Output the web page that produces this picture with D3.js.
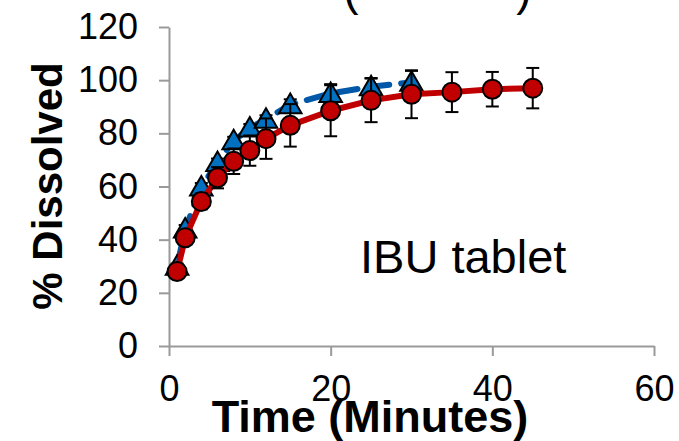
<!DOCTYPE html>
<html>
<head>
<meta charset="utf-8">
<script src="https://cdn.jsdelivr.net/npm/d3@7/dist/d3.min.js"></script>
<style>
  html, body { margin: 0; padding: 0; background: #fff; }
  svg { display: block; }
  text { font-family: "Liberation Sans", Arial, sans-serif; }
</style>
</head>
<body>
<div id="chart"></div>
<script>
// data
var redTime = [1, 2, 4, 6, 8, 10, 12, 15, 20, 25, 30, 35, 40, 45];
var redVal = [28, 40.7, 54.4, 63.3, 69.5, 73.5, 78, 83, 88.5, 92.4, 94.7, 95.5, 96.6, 97];
var redErr = [1.5, 2, 3, 4, 4.8, 5.7, 7.6, 8, 9.6, 8.2, 9, 7.5, 6.5, 7.6];

var blueTime = [1, 2, 4, 6, 8, 10, 12, 15, 20, 25, 30];
var blueVal = [30, 44, 59.8, 69, 77.2, 82, 85.3, 90.8, 95, 97.5, 99.2];
var blueErr = [1, 1.5, 1.5, 1.5, 1.5, 1.5, 1.5, 2, 3.5, 3.3, 4.3];

var xTicks = [0, 20, 40, 60];
var yTicks = [0, 20, 40, 60, 80, 100, 120];

var width = 679, height = 441;

var svg = d3.select("#chart").append("svg")
  .attr("width", width)
  .attr("height", height);

var x = d3.scaleLinear().domain([0, 60]).range([169, 654]);
var y = d3.scaleLinear().domain([0, 120]).range([346, 27]);

var axisColor = "#9a9a9a";

// y axis
var yAxis = svg.append("g")
  .attr("transform", "translate(" + x(0) + ",0)")
  .call(d3.axisLeft(y).tickValues(yTicks).tickSize(10).tickSizeOuter(0).tickPadding(21));

// x axis
var xAxis = svg.append("g")
  .attr("transform", "translate(0," + y(0) + ")")
  .call(d3.axisBottom(x).tickValues(xTicks).tickSize(10).tickSizeOuter(0).tickPadding(19));

[yAxis, xAxis].forEach(function(g) {
  g.select(".domain").attr("stroke", axisColor).attr("stroke-width", 2);
  g.selectAll(".tick line").attr("stroke", axisColor).attr("stroke-width", 2);
  g.selectAll(".tick text")
    .attr("fill", "#000")
    .style("font-size", "36px");
});

// titles
svg.append("text")
  .attr("transform", "translate(62,186) rotate(-90)")
  .attr("text-anchor", "middle")
  .style("font-size", "42px")
  .style("font-weight", "bold")
  .text("% Dissolved");

svg.append("text")
  .attr("x", 370)
  .attr("y", 432)
  .attr("text-anchor", "middle")
  .style("font-size", "45px")
  .style("font-weight", "bold")
  .text("Time (Minutes)");

svg.append("text")
  .attr("x", 360)
  .attr("y", 273)
  .style("font-size", "47px")
  .text("IBU tablet");

// bits of the cut-off chart title
svg.append("text").attr("x", 351).attr("y", 5).attr("text-anchor", "middle")
  .style("font-size", "46px").text("(");
svg.append("text").attr("x", 524).attr("y", 5).attr("text-anchor", "middle")
  .style("font-size", "46px").text(")");

function drawSeries(times, vals, errs, lineColor, dashed, marker) {
  var pts = times.map(function(t, i) { return { t: t, v: vals[i], e: errs[i] }; });

  var line = d3.line()
    .x(function(d) { return x(d.t); })
    .y(function(d) { return y(d.v); });

  var path = svg.append("path")
    .datum(pts)
    .attr("fill", "none")
    .attr("stroke", lineColor)
    .attr("stroke-width", 6)
    .attr("stroke-linejoin", "round")
    .attr("stroke-linecap", "round")
    .attr("d", line);
  if (dashed) path.attr("stroke-dasharray", "20,12");

  // error bars
  var eb = svg.append("g").attr("stroke", "#000").attr("stroke-width", 2);
  pts.forEach(function(d) {
    var cx = x(d.t);
    eb.append("line").attr("x1", cx).attr("x2", cx)
      .attr("y1", y(d.v - d.e)).attr("y2", y(d.v + d.e));
    eb.append("line").attr("x1", cx - 6.5).attr("x2", cx + 6.5)
      .attr("y1", y(d.v - d.e)).attr("y2", y(d.v - d.e));
    eb.append("line").attr("x1", cx - 6.5).attr("x2", cx + 6.5)
      .attr("y1", y(d.v + d.e)).attr("y2", y(d.v + d.e));
  });

  // markers
  if (marker === "circle") {
    svg.append("g").selectAll("circle")
      .data(pts)
      .enter().append("circle")
      .attr("cx", function(d) { return x(d.t); })
      .attr("cy", function(d) { return y(d.v); })
      .attr("r", 9.5)
      .attr("fill", "#c00000")
      .attr("stroke", "#000")
      .attr("stroke-width", 2);
  } else {
    var tri = d3.symbol().type(d3.symbolTriangle).size(220);
    svg.append("g").selectAll("path")
      .data(pts)
      .enter().append("path")
      .attr("transform", function(d) { return "translate(" + x(d.t) + "," + (y(d.v) + 2) + ")"; })
      .attr("d", tri)
      .attr("fill", "#0070c0")
      .attr("stroke", "#000")
      .attr("stroke-width", 2);
  }
}

drawSeries(blueTime, blueVal, blueErr, "#0058a8", true, "triangle");
drawSeries(redTime, redVal, redErr, "#c00000", false, "circle");
</script>
</body>
</html>
